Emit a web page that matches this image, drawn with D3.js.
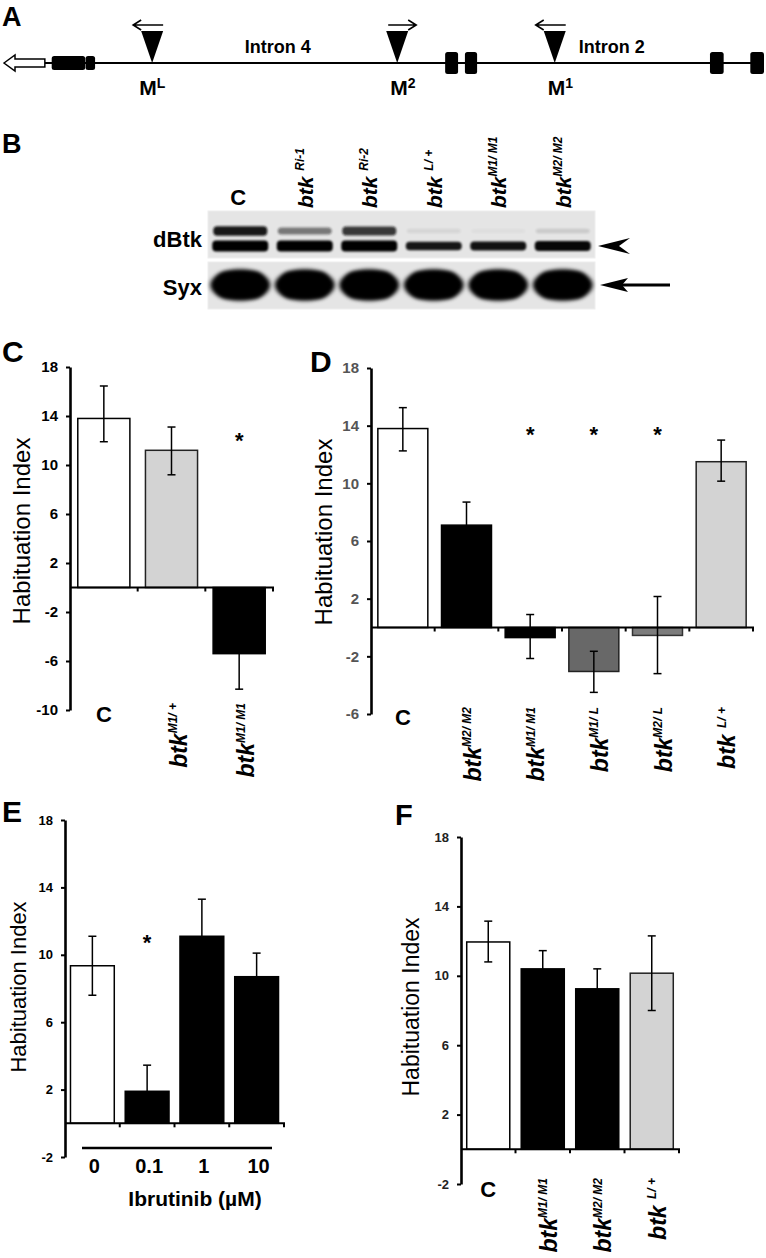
<!DOCTYPE html>
<html><head><meta charset="utf-8">
<script src="https://cdn.jsdelivr.net/npm/d3@7"></script>
<style>body{margin:0;background:#fff}svg{display:block}</style>
</head><body><svg id="fig" width="766" height="1258"></svg>
<script>
// ================= DATA =================
// Panel A: gene model, positions in arbitrary genomic units (0-100)
const reporterArrow = [0, 5.5];
const exonStart = [6.4, 10.85, 58.1, 60.7, 92.9, 98.2];
const exonEnd   = [10.8, 12.1, 59.8, 62.3, 94.7, 100];
const exonCoding = [false, false, true, true, true, true];
const insertNames = ["L", "2", "1"];
const insertPos = [19.6, 51.8, 72.5];
const insertDir = [-1, 1, -1];
const intronNames = ["Intron 4", "Intron 2"];
const intronPos = [36.1, 80.0];

// Panel B: western blot
const laneBase = ["C", "btk ", "btk ", "btk ", "btk", "btk"];
const laneSup  = ["", "Ri-1", "Ri-2", "L/ +", "M1/ M1", "M2/ M2"];
const dBtkUpper = [0.95, 0.5, 0.8, 0.07, 0.03, 0.12];
const dBtkLower = [1, 1, 1, 0.9, 0.92, 0.97];
const syxBand   = [1, 1, 1, 1, 1, 1];

// Panel C
const catsC = ["C", "M1/ +", "M1/ M1"];
const meanC = [13.8, 11.2, -5.4];
const lowC  = [11.9, 9.2, -8.3];
const highC = [16.45, 13.1, -2.5];
const sigC  = [false, false, true];
const ticksC = [18, 14, 10, 6, 2, -2, -6, -10];

// Panel D
const catsD = ["C", "M2/ M2", "M1/ M1", "M1/ L", "M2/ L", "L/ +"];
const meanD = [13.8, 7.1, -0.7, -3.05, -0.55, 11.5];
const lowD  = [12.25, 5.5, -2.15, -4.5, -3.2, 10.15];
const highD = [15.25, 8.7, 0.9, -1.65, 2.15, 13.0];
const sigD  = [false, false, true, true, true, false];
const ticksD = [18, 14, 10, 6, 2, -2, -6];

// Panel E
const catsE = ["0", "0.1", "1", "10"];
const meanE = [9.35, 1.9, 11.1, 8.7];
const lowE  = [7.6, 0.35, 8.9, 7.3];
const highE = [11.1, 3.45, 13.3, 10.1];
const sigE  = [false, true, false, false];
const ticksE = [18, 14, 10, 6, 2, -2];

// Panel F
const catsF = ["C", "M1/ M1", "M2/ M2", "L/ +"];
const meanF = [11.95, 10.4, 9.25, 10.15];
const lowF  = [10.8, 9.35, 8.15, 8.0];
const highF = [13.15, 11.45, 10.4, 12.3];
const sigF  = [false, false, false, false];
const ticksF = [18, 14, 10, 6, 2, -2];

// ================= DRAWING =================
const FONT = '"Liberation Sans", Arial, Helvetica, sans-serif';
const svg = d3.select("#fig");
svg.append("rect").attr("width", 766).attr("height", 1258).attr("fill", "#fff");
const defs = svg.append("defs");
defs.append("filter").attr("id", "blur").attr("x", "-20%").attr("y", "-50%").attr("width", "140%").attr("height", "200%")
  .append("feGaussianBlur").attr("stdDeviation", 2.2);
defs.append("filter").attr("id", "blur2").attr("x", "-20%").attr("y", "-80%").attr("width", "140%").attr("height", "260%")
  .append("feGaussianBlur").attr("stdDeviation", 1.3);

function txt(g, x, y, s, size, weight, anchor, color) {
  return g.append("text").attr("x", x).attr("y", y).text(s)
    .attr("font-family", FONT).attr("font-size", size).attr("font-weight", weight || "normal")
    .attr("text-anchor", anchor || "start").attr("fill", color || "#000");
}
function panelLetter(x, y, s, size) { txt(svg, x, y, s, size, "bold"); }

// rotated "btk^sup" label
function rotLabel(g, x, y, base, sup, anchor, baseSize, supSize) {
  const t = g.append("text").attr("transform", `translate(${x},${y}) rotate(-90)`)
    .attr("font-family", FONT).attr("text-anchor", anchor).attr("fill", "#000");
  t.append("tspan").text(base).attr("font-size", baseSize).attr("font-weight", "bold").attr("font-style", "italic");
  t.append("tspan").text(sup).attr("font-size", supSize).attr("font-weight", "bold").attr("font-style", "italic")
    .attr("dy", -baseSize * 0.42);
  return t;
}

// ---------- Panel A ----------
(function () {
  const g = svg.append("g");
  const gx = d3.scaleLinear().domain([0, 100]).range([3, 764]);
  const ly = 63;
  g.append("line").attr("x1", gx(reporterArrow[1])).attr("x2", gx(100)).attr("y1", ly).attr("y2", ly)
    .attr("stroke", "#000").attr("stroke-width", 2);
  const a0 = gx(reporterArrow[0]), a1 = gx(reporterArrow[1]), hl = 12;
  g.append("path").attr("d",
    `M${a0 + 1},${ly} L${a0 + hl},${ly - 8} L${a0 + hl},${ly - 4} L${a1},${ly - 4} L${a1},${ly + 4} L${a0 + hl},${ly + 4} L${a0 + hl},${ly + 8} Z`)
    .attr("fill", "#fff").attr("stroke", "#000").attr("stroke-width", 1.5);
  g.selectAll("rect.exon").data(exonStart).join("rect").attr("class", "exon")
    .attr("x", d => gx(d)).attr("width", (d, i) => gx(exonEnd[i]) - gx(d))
    .attr("y", (d, i) => exonCoding[i] ? ly - 11 : ly - 7)
    .attr("height", (d, i) => exonCoding[i] ? 22 : 14)
    .attr("rx", 2.5).attr("fill", "#000");
  insertPos.forEach((p, i) => {
    const x = gx(p);
    g.append("path").attr("d", `M${x - 11},31 L${x + 11},31 L${x},${ly} Z`).attr("fill", "#000");
    const dir = insertDir[i];
    const ay = 25;
    const xs = dir < 0 ? x + 11 : x - 9, xe = dir < 0 ? x - 19 : x + 19;
    g.append("path").attr("d", `M${xs},${ay} L${xe},${ay} M${xe - dir * 8},${ay - 5} L${xe},${ay} L${xe - dir * 8},${ay + 5}`)
      .attr("fill", "none").attr("stroke", "#000").attr("stroke-width", 1.6);
    const t = g.append("text").attr("x", x + (insertNames[i] === "L" ? -13 : -7)).attr("y", 95)
      .attr("font-family", FONT).attr("font-weight", "bold");
    t.append("tspan").text("M").attr("font-size", 21);
    t.append("tspan").text(insertNames[i]).attr("font-size", 14).attr("dy", -7);
  });
  intronNames.forEach((n, i) => txt(g, gx(intronPos[i]), 53, n, 18, "bold", "middle"));
  panelLetter(2, 26, "A", 27);
})();

// ---------- Panel B ----------
(function () {
  const g = svg.append("g");
  const lx = d3.scaleBand().domain(d3.range(laneBase.length)).range([208, 595]).paddingInner(0.04).paddingOuter(0.02);
  const blots = [[211, 258], [262, 309]];
  blots.forEach(b => g.append("rect").attr("x", 208).attr("y", b[0]).attr("width", 387).attr("height", b[1] - b[0])
    .attr("fill", "#e5e5e5").attr("stroke", "#eeeeee").attr("stroke-width", 1));
  const cx = i => lx(i) + lx.bandwidth() / 2;
  const bands = g.append("g");
  // dBtk upper band
  bands.selectAll("rect.up").data(dBtkUpper).join("rect").attr("class", "up")
    .attr("x", (d, i) => cx(i) - 27).attr("width", 54).attr("y", d => 231 - 2 - 3 * d).attr("height", d => 4 + 6 * d).attr("rx", 4)
    .attr("fill", "#111").attr("opacity", d => d).attr("filter", "url(#blur2)");
  // dBtk lower band
  bands.selectAll("rect.lo").data(dBtkLower).join("rect").attr("class", "lo")
    .attr("x", (d, i) => cx(i) - 28).attr("width", 56).attr("y", d => 246 - (3 + 12 * (d - 0.8))).attr("height", d => 2 * (3 + 12 * (d - 0.8))).attr("rx", 4)
    .attr("fill", "#050505").attr("opacity", d => d).attr("filter", "url(#blur2)");
  // Syx band
  bands.selectAll("ellipse.syx").data(syxBand).join("ellipse").attr("class", "syx")
    .attr("cx", (d, i) => cx(i)).attr("cy", 285).attr("rx", 30).attr("ry", 15.5)
    .attr("fill", "#050505").attr("opacity", d => d).attr("filter", "url(#blur)");
  bands.selectAll("rect.syx").data(syxBand).join("rect").attr("class", "syx")
    .attr("x", (d, i) => cx(i) - 24).attr("width", 48).attr("y", 272).attr("height", 26).attr("rx", 10)
    .attr("fill", "#050505").attr("opacity", d => d).attr("filter", "url(#blur)");
  // lane labels
  laneBase.forEach((b, i) => {
    if (laneSup[i] === "") txt(g, cx(i) - 2, 205, b, 22, "bold", "middle");
    else rotLabel(g, cx(i) + 8, 208, b, laneSup[i], "start", 21, 12);
  });
  txt(g, 202, 247, "dBtk", 22, "bold", "end");
  txt(g, 202, 295, "Syx", 22, "bold", "end");
  // arrowhead for dBtk
  g.append("path").attr("d", "M598,246 L630,238 L619,246 L630,254 Z").attr("fill", "#000");
  // arrow for Syx
  g.append("line").attr("x1", 612).attr("x2", 670).attr("y1", 285).attr("y2", 285).attr("stroke", "#000").attr("stroke-width", 3);
  g.append("path").attr("d", "M600,285 L628,278 L622,285 L628,292 Z").attr("fill", "#000");
  panelLetter(2, 153, "B", 27);
})();

// ---------- Bar panels ----------
function barPanel(cfg) {
  const g = svg.append("g");
  const n = cfg.cats.length;
  const x = d3.scaleBand().domain(cfg.cats).range(cfg.xr).paddingInner(cfg.pad).paddingOuter(cfg.pad / 2);
  const y = d3.scaleLinear().domain(cfg.ydom).range(cfg.yr);
  const cxv = c => x(c) + x.bandwidth() / 2;
  const step = (cfg.xr[1] - cfg.xr[0]) / n;

  g.selectAll("rect.bar").data(cfg.means).join("rect").attr("class", "bar")
    .attr("x", (d, i) => x(cfg.cats[i])).attr("width", x.bandwidth())
    .attr("y", d => y(Math.max(0, d))).attr("height", d => Math.abs(y(d) - y(0)))
    .attr("fill", (d, i) => cfg.fills[i]).attr("stroke", (d, i) => cfg.strokes[i]).attr("stroke-width", 1.5);

  const eb = g.append("g").attr("stroke", "#000").attr("stroke-width", 1.5).attr("fill", "none");
  cfg.means.forEach((m, i) => {
    const cx = cxv(cfg.cats[i]);
    const yl = y(cfg.lows[i]), yh = y(cfg.highs[i]);
    eb.append("line").attr("x1", cx).attr("x2", cx).attr("y1", yl).attr("y2", yh);
    eb.append("line").attr("x1", cx - 4).attr("x2", cx + 4).attr("y1", yl).attr("y2", yl);
    eb.append("line").attr("x1", cx - 4).attr("x2", cx + 4).attr("y1", yh).attr("y2", yh);
  });

  // zero line and category boundary ticks
  g.append("line").attr("x1", cfg.xr[0]).attr("x2", cfg.xr[1] + 1).attr("y1", y(0)).attr("y2", y(0))
    .attr("stroke", "#000").attr("stroke-width", 2);
  for (let i = 1; i <= n; i++) {
    const tx = cfg.xr[0] + i * step;
    g.append("line").attr("x1", tx).attr("x2", tx).attr("y1", y(0)).attr("y2", y(0) + 4)
      .attr("stroke", "#000").attr("stroke-width", 2);
  }

  const ax = g.append("g").attr("transform", `translate(${cfg.xr[0]},0)`)
    .call(d3.axisLeft(y).tickValues(cfg.ticks).tickSize(4).tickSizeOuter(0).tickPadding(8).tickFormat(d => String(d)));
  ax.select(".domain").attr("stroke-width", 2.6).attr("stroke", "#000");
  ax.selectAll(".tick line").attr("stroke-width", 2).attr("stroke", "#000");
  ax.selectAll(".tick text").attr("font-family", FONT).attr("font-size", cfg.tickFont)
    .attr("font-weight", "bold").attr("fill", cfg.tickColor);

  // significance stars
  cfg.sig.forEach((s, i) => {
    if (s) txt(g, cxv(cfg.cats[i]), y(cfg.starLevel) + 12, "*", 22, "bold", "middle");
  });

  // y label
  g.append("text").attr("transform", `translate(${cfg.ylabX},${cfg.ylabY}) rotate(-90)`)
    .attr("text-anchor", "middle").attr("font-family", FONT).attr("font-size", cfg.ylabSize)
    .text("Habituation Index");

  // x labels
  if (cfg.rotLabels) {
    cfg.cats.forEach((c, i) => {
      const cx = cxv(c);
      if (c === "C") txt(g, cx, cfg.cBase, "C", 22, "bold", "middle");
      else rotLabel(g, cx + cfg.rotDx, cfg.rotEnd, c.startsWith("L") ? "btk " : "btk", c, "end", 23, 12);
    });
  }
  return { g, x, y, cxv };
}

// Panel C
barPanel({
  cats: catsC, means: meanC, lows: lowC, highs: highC, sig: sigC, ticks: ticksC,
  xr: [70, 273], yr: [710, 367], ydom: [-10, 18], pad: 0.23,
  fills: ["#ffffff", "#d3d3d3", "#000000"], strokes: ["#000", "#222", "#000"],
  tickFont: 15, tickColor: "#000", starLevel: 12.4,
  ylabX: 30, ylabY: 531, ylabSize: 24,
  rotLabels: true, rotEnd: 703, rotDx: 15, cBase: 722
});
panelLetter(2, 362, "C", 30);

// Panel D
barPanel({
  cats: catsD, means: meanD, lows: lowD, highs: highD, sig: sigD, ticks: ticksD,
  xr: [371, 753], yr: [714, 368], ydom: [-6, 18], pad: 0.215,
  fills: ["#ffffff", "#000000", "#000000", "#686868", "#7c7c7c", "#d3d3d3"],
  strokes: ["#000", "#000", "#000", "#222", "#333", "#222"],
  tickFont: 15, tickColor: "#555", starLevel: 13.7,
  ylabX: 332, ylabY: 532, ylabSize: 24,
  rotLabels: true, rotEnd: 707, rotDx: 14, cBase: 725
});
panelLetter(310, 372, "D", 30);

// Panel E
const pE = barPanel({
  cats: catsE, means: meanE, lows: lowE, highs: highE, sig: sigE, ticks: ticksE,
  xr: [65, 284], yr: [1157, 820], ydom: [-2, 18], pad: 0.2,
  fills: ["#ffffff", "#000000", "#000000", "#000000"], strokes: ["#000", "#000", "#000", "#000"],
  tickFont: 13, tickColor: "#000", starLevel: 11.0,
  ylabX: 26, ylabY: 987, ylabSize: 22,
  rotLabels: false
});
pE.g.append("line").attr("x1", 82).attr("x2", 272).attr("y1", 1148).attr("y2", 1148).attr("stroke", "#000").attr("stroke-width", 2.5);
catsE.forEach(c => txt(pE.g, pE.cxv(c) + 2, 1173, c, 20, "bold", "middle"));
txt(pE.g, 195, 1206, "Ibrutinib (µM)", 21, "bold", "middle");
panelLetter(2, 822, "E", 30);

// Panel F
barPanel({
  cats: catsF, means: meanF, lows: lowF, highs: highF, sig: sigF, ticks: ticksF,
  xr: [461, 679], yr: [1184, 837], ydom: [-2, 18], pad: 0.21,
  fills: ["#ffffff", "#000000", "#000000", "#d3d3d3"], strokes: ["#000", "#000", "#000", "#222"],
  tickFont: 13, tickColor: "#222", starLevel: 11,
  ylabX: 419, ylabY: 1007, ylabSize: 23,
  rotLabels: true, rotEnd: 1178, rotDx: 14, cBase: 1197
});
panelLetter(395, 825, "F", 29);
</script></body></html>
